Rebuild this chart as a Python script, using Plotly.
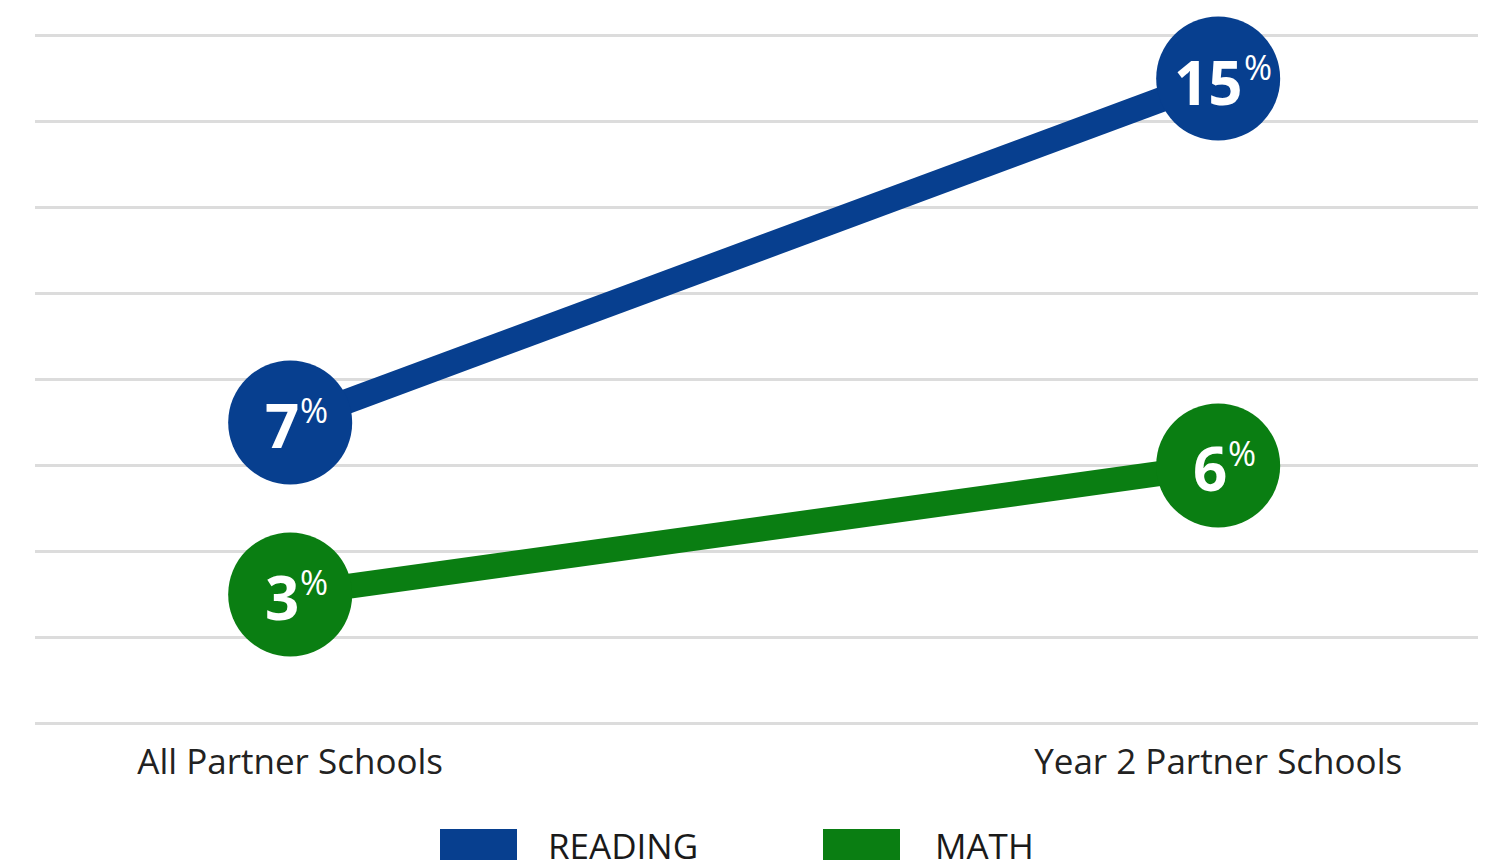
import plotly.graph_objects as go

categories = ["All Partner Schools", "Year 2 Partner Schools"]
reading = [7, 15]
math_vals = [3, 6]
series_names = ["READING", "MATH"]
colors = ["#073f8f", "#0a7e12"]

FONT = "Open Sans"

fig = go.Figure()
for name, vals, col in zip(series_names, [reading, math_vals], colors):
    fig.add_trace(go.Scatter(
        x=[0, 1], y=vals, mode="lines+markers", name=name,
        line=dict(color=col, width=25),
        marker=dict(size=124, color=col),
        cliponaxis=False, showlegend=False, hoverinfo="skip",
    ))
    for xi, v in enumerate(vals):
        nd = len(str(v))
        split = 7 + (nd * 33 - 28) / 2
        fig.add_annotation(x=xi, y=v, xref="x", yref="y", text=f"<b>{v}</b>",
                           showarrow=False, xanchor="right", yanchor="middle",
                           xshift=split, yshift=-3, borderpad=0,
                           font=dict(family=FONT, size=60, color="white", weight=800))
        fig.add_annotation(x=xi, y=v, xref="x", yref="y", text="%",
                           showarrow=False, xanchor="left", yanchor="middle",
                           xshift=split - 1, yshift=12, borderpad=0,
                           font=dict(family=FONT, size=34, color="white"))

W, H = 1487, 865
ml, mr, mt, mb = 35, 9, 33, 139
pw, ph = W - ml - mr, H - mt - mb

def px_x(x):
    return (x - ml) / pw

def px_y(y):
    return (H - mb - y) / ph

legend_items = [(440, 517, 548), (823, 900, 935)]
for (x0, x1, tx), name, col in zip(legend_items, series_names, colors):
    fig.add_shape(type="rect", xref="paper", yref="paper",
                  x0=px_x(x0), x1=px_x(x1), y0=px_y(860), y1=px_y(829),
                  fillcolor=col, line=dict(width=0))
    fig.add_annotation(xref="paper", yref="paper", x=px_x(tx - 2), y=px_y(845),
                       text=name, showarrow=False, xanchor="left", yanchor="middle",
                       font=dict(family=FONT, size=35, color="#1a1a1a"))

fig.update_layout(
    width=W, height=H,
    margin=dict(l=ml, r=mr, t=mt, b=mb),
    paper_bgcolor="white", plot_bgcolor="white",
    xaxis=dict(range=[-0.275, 1.28], tickvals=[0, 1], ticktext=categories,
               showgrid=False, zeroline=False, showline=False,
               ticks="outside", ticklen=5, tickcolor="rgba(0,0,0,0)",
               tickfont=dict(family=FONT, size=35, color="#222222")),
    yaxis=dict(range=[-0.06, 16.06], dtick=2, showticklabels=False,
               showgrid=True, gridcolor="#dcdcdc", gridwidth=3,
               zeroline=False, showline=False),
)

fig.write_html("out.html")
